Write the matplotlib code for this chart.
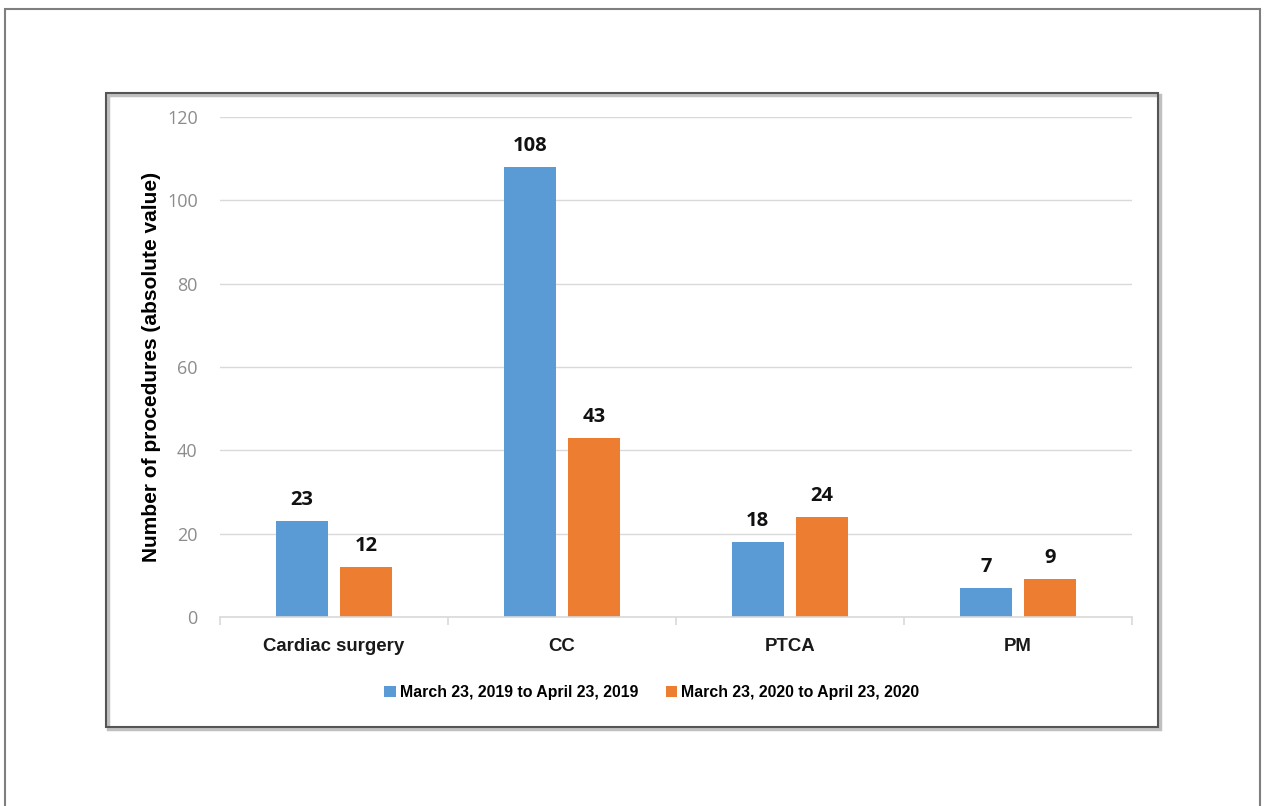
import numpy as np
import matplotlib.pyplot as plt
from matplotlib.patches import Rectangle

categories = ['Cardiac surgery', 'CC', 'PTCA', 'PM']
series_names = ['March 23, 2019 to April 23, 2019', 'March 23, 2020 to April 23, 2020']
values_2019 = [23, 108, 18, 7]
values_2020 = [12, 43, 24, 9]
yticks = [0, 20, 40, 60, 80, 100, 120]

blue = '#5B9BD5'
orange = '#ED7D31'

fig = plt.figure(figsize=(12.64, 8.06), dpi=100)
ax = fig.add_axes([0.174, 0.2345, 0.7216, 0.6203])

# frames around the chart
fig.patches.append(Rectangle((5 / 1264, -0.1), 1255 / 1264, 1.1 - 9 / 806,
                             transform=fig.transFigure, fill=False,
                             edgecolor='#7f7f7f', linewidth=1.5))
fig.patches.append(Rectangle((108 / 1264, 1 - 729 / 806), 1052 / 1264, 634 / 806,
                             transform=fig.transFigure, fill=False,
                             edgecolor='#c0c0c0', linewidth=2.5))
fig.patches.append(Rectangle((106 / 1264, 1 - 727 / 806), 1052 / 1264, 634 / 806,
                             transform=fig.transFigure, fill=False,
                             edgecolor='#555555', linewidth=1.5))

x = np.arange(len(categories))
w = 0.228
off = 0.141
b1 = ax.bar(x - off, values_2019, w, color=blue, label=series_names[0])
b2 = ax.bar(x + off, values_2020, w, color=orange, label=series_names[1])

for bars in (b1, b2):
    for r in bars:
        ax.annotate(str(int(r.get_height())), (r.get_x() + r.get_width() / 2, r.get_height()),
                    xytext=(0, 8), textcoords='offset points', ha='center', va='bottom',
                    fontsize=14.5, fontweight='bold', family='Open Sans', color='#111111')

ax.set_xlim(-0.5, len(categories) - 0.5)
ax.set_ylim(0, 120)
ax.set_yticks(yticks)
ax.yaxis.grid(True, color='#d9d9d9', linewidth=1)
ax.set_axisbelow(True)
for s in ['top', 'right', 'left']:
    ax.spines[s].set_visible(False)
ax.spines['bottom'].set_color('#d9d9d9')
ax.spines['bottom'].set_linewidth(1.2)

ax.set_xticks(x)
ax.set_xticklabels(categories, fontsize=13.4, fontweight='bold', family='Liberation Sans',
                   color='#1a1a1a')
ax.tick_params(axis='x', length=0, pad=15)
ax.set_xticks(np.arange(-0.5, len(categories)), minor=True)
ax.tick_params(axis='x', which='minor', length=6, color='#d9d9d9', width=1.2)
ax.tick_params(axis='y', length=0, pad=16, labelsize=13, labelcolor='#8c8c8c')
for lab in ax.get_yticklabels():
    lab.set_family('Open Sans')

ax.set_ylabel('Number of procedures (absolute value)', fontsize=15, fontweight='bold',
              family='Liberation Sans', labelpad=4.5)

ax.legend(loc='upper center', bbox_to_anchor=(0.4737, -0.108), ncol=2, frameon=False,
          prop={'family': 'Liberation Sans', 'weight': 'bold', 'size': 11.4},
          handlelength=0.7, handleheight=0.7, handletextpad=0.3, columnspacing=1.7)

plt.savefig('out.png', dpi=100)
